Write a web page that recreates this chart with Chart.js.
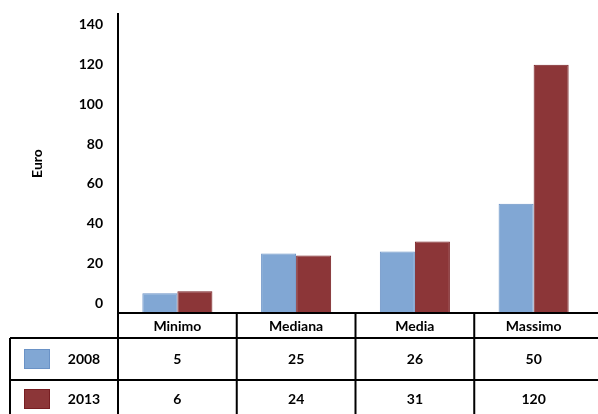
<!DOCTYPE html>
<html>
<head>
<meta charset="utf-8">
<script src="https://cdn.jsdelivr.net/npm/chart.js@4.4.1/dist/chart.umd.min.js"></script>
<style>
html,body{margin:0;padding:0;background:#ffffff;}
canvas{display:block;}
</style>
</head>
<body>
<canvas id="c" width="598" height="414"></canvas>
<script>
// ---- data ----
const categories = ['Minimo', 'Mediana', 'Media', 'Massimo'];
const seriesNames = ['2008', '2013'];
const values2008 = [5, 25, 26, 50];
const values2013 = [6, 24, 31, 120];
const yTicks = [0, 20, 40, 60, 80, 100, 120, 140];
const yTitle = 'Euro';

// ---- styles ----
const FONT_FAMILY = 'Lato, "Open Sans", sans-serif';
const BLUE = '#81A7D4', BLUE_BORDER = '#6A92C6';
const RED = '#8C3638', RED_BORDER = '#771E22';

const tablePlugin = {
  id: 'dataTable',
  afterDraw(chart) {
    const ctx = chart.ctx;
    const xs = chart.scales.x;
    const area = chart.chartArea;
    const W = chart.width, H = chart.height;
    const n = categories.length;
    const half = (xs.getPixelForValue(1) - xs.getPixelForValue(0)) / 2;
    const bounds = categories.map((c, i) => xs.getPixelForValue(i) - half);
    bounds.push(xs.getPixelForValue(n - 1) + half);

    const headTop = area.bottom;      // ~313
    const row1Top = headTop + 25;     // ~338
    const row2Top = row1Top + 42;     // ~380
    const row2Bot = row2Top + 38;
    const tableLeft = 10;

    ctx.save();
    ctx.strokeStyle = '#000';
    ctx.lineWidth = 2;
    ctx.beginPath();
    ctx.moveTo(area.left, headTop); ctx.lineTo(W, headTop);
    ctx.moveTo(tableLeft, row1Top); ctx.lineTo(W, row1Top);
    ctx.moveTo(tableLeft, row2Top); ctx.lineTo(W, row2Top);
    ctx.moveTo(tableLeft, row1Top); ctx.lineTo(tableLeft, H);
    ctx.moveTo(area.left, headTop); ctx.lineTo(area.left, H);
    for (let i = 1; i < n; i++) {
      ctx.moveTo(bounds[i], headTop); ctx.lineTo(bounds[i], H);
    }
    ctx.stroke();

    ctx.fillStyle = '#000';
    ctx.font = 'bold 14px ' + FONT_FAMILY;
    ctx.textAlign = 'center';
    ctx.textBaseline = 'middle';
    const headY = (headTop + row1Top) / 2 + 1;
    const r1Y = (row1Top + row2Top) / 2;
    const r2Y = (row2Top + row2Bot) / 2;
    categories.forEach((c, i) => {
      const cx = (bounds[i] + bounds[i + 1]) / 2;
      ctx.fillText(c, cx, headY);
    });
    const rows = [values2008, values2013];
    const rowYs = [r1Y, r2Y];
    chart.data.datasets.forEach((ds, r) => {
      rows[r].forEach((v, i) => {
        const cx = (bounds[i] + bounds[i + 1]) / 2;
        ctx.fillText(String(v), cx, rowYs[r]);
      });
      ctx.fillStyle = ds.backgroundColor;
      ctx.fillRect(24, rowYs[r] - 10, 26, 20);
      ctx.lineWidth = 1;
      ctx.strokeStyle = ds.borderColor;
      ctx.strokeRect(24.5, rowYs[r] - 9.5, 25, 19);
      ctx.fillStyle = '#000';
      ctx.fillText(seriesNames[r], 84, rowYs[r]);
    });
    ctx.restore();
  }
};

new Chart(document.getElementById('c'), {
  type: 'bar',
  data: {
    labels: categories,
    datasets: [
      { label: seriesNames[0], data: values2008, backgroundColor: BLUE, borderColor: BLUE_BORDER, borderWidth: 1, base: -5 },
      { label: seriesNames[1], data: values2013, backgroundColor: RED, borderColor: RED_BORDER, borderWidth: 1, base: -5 }
    ]
  },
  options: {
    responsive: false,
    animation: false,
    devicePixelRatio: 1,
    categoryPercentage: 0.59,
    barPercentage: 1.0,
    layout: { padding: { top: 14, right: 5, bottom: 101, left: 0 } },
    plugins: { legend: { display: false }, tooltip: { enabled: false } },
    scales: {
      x: { display: false },
      y: {
        min: -5,
        max: 145.5,
        afterFit(scale) { scale.width = 118; },
        afterBuildTicks(scale) { scale.ticks = yTicks.map(v => ({ value: v })); },
        grid: { display: false, drawTicks: true, tickLength: 15 },
        border: { display: true, color: '#000', width: 2 },
        ticks: { padding: 0, color: '#000', font: { family: FONT_FAMILY, size: 14, weight: 'bold' } },
        title: { display: true, text: yTitle, color: '#000', padding: { top: 29, bottom: 0 }, font: { family: FONT_FAMILY, size: 14, weight: 'bold' } }
      }
    }
  },
  plugins: [tablePlugin]
});
</script>
</body>
</html>
